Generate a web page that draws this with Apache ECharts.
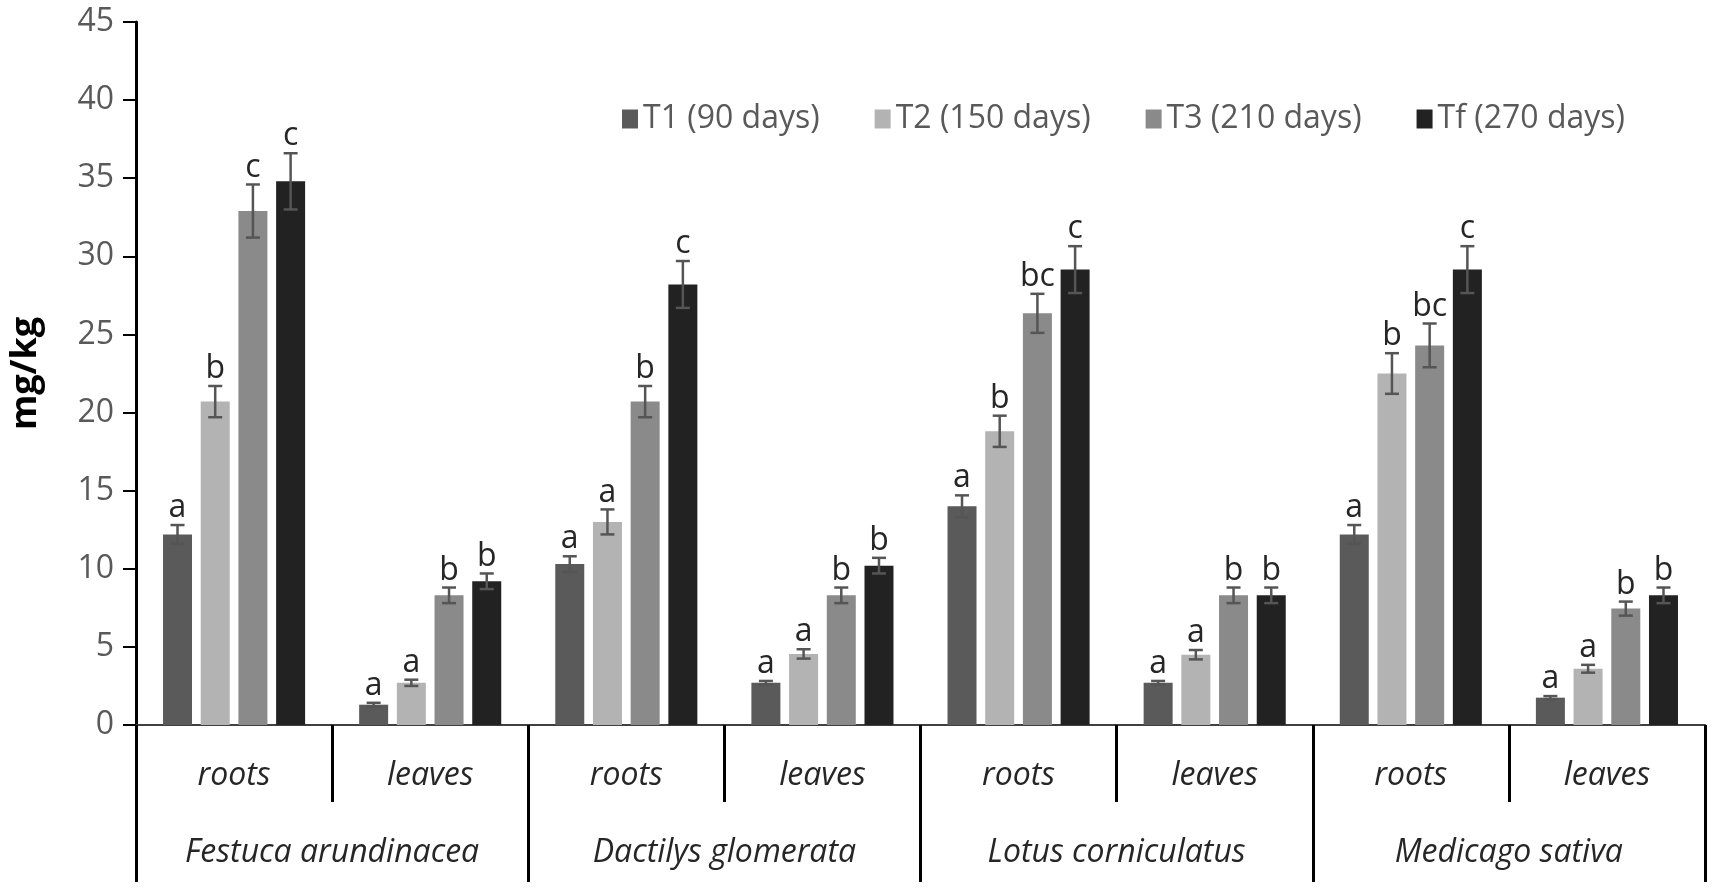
<!DOCTYPE html>
<html>
<head>
<meta charset="utf-8">
<script src="https://cdn.jsdelivr.net/npm/echarts@6/dist/echarts.min.js"></script>
<style>
  html, body { margin: 0; padding: 0; background: #fff; }
  #chart { width: 1714px; height: 892px; }
</style>
</head>
<body>
<div id="chart"></div>
<script>
// categories
var parts = ['roots', 'leaves', 'roots', 'leaves', 'roots', 'leaves', 'roots', 'leaves'];
var species = ['Festuca arundinacea', 'Dactilys glomerata', 'Lotus corniculatus', 'Medicago sativa'];
var seriesNames = ['T1 (90 days)', 'T2 (150 days)', 'T3 (210 days)', 'Tf (270 days)'];
var yTicks = [0, 5, 10, 15, 20, 25, 30, 35, 40, 45];

// mean values (mg/kg), one array per sampling time
var t1 = [12.2, 1.3, 10.3, 2.7, 14.0, 2.7, 12.2, 1.75];
var t2 = [20.7, 2.7, 13.0, 4.55, 18.8, 4.5, 22.5, 3.6];
var t3 = [32.9, 8.3, 20.7, 8.3, 26.35, 8.3, 24.3, 7.45];
var tf = [34.8, 9.2, 28.2, 10.2, 29.15, 8.3, 29.15, 8.3];

// error (+/-)
var t1Err = [0.6, 0.12, 0.5, 0.12, 0.7, 0.12, 0.6, 0.1];
var t2Err = [1.0, 0.2, 0.8, 0.3, 1.0, 0.3, 1.3, 0.25];
var t3Err = [1.7, 0.5, 1.0, 0.5, 1.25, 0.5, 1.4, 0.45];
var tfErr = [1.8, 0.5, 1.5, 0.5, 1.5, 0.5, 1.5, 0.5];

// significance letters
var t1Let = ['a', 'a', 'a', 'a', 'a', 'a', 'a', 'a'];
var t2Let = ['b', 'a', 'a', 'a', 'b', 'a', 'b', 'a'];
var t3Let = ['c', 'b', 'b', 'b', 'bc', 'b', 'bc', 'b'];
var tfLet = ['c', 'b', 'c', 'b', 'c', 'b', 'c', 'b'];

var colors = ['#5a5a5a', '#b3b3b3', '#8a8a8a', '#222222'];
var FONT = 'Open Sans';

var values = [t1, t2, t3, tf];
var errs = [t1Err, t2Err, t3Err, tfErr];
var letters = [t1Let, t2Let, t3Let, tfLet];

var BAR_W = 29;
var BAR_GAP = 0.3; // fraction of bar width
var STEP = BAR_W * (1 + BAR_GAP);

var myChart = echarts.init(document.getElementById('chart'));

var series = [];
// bars
for (var s = 0; s < 4; s++) {
    series.push({
        name: seriesNames[s],
        type: 'bar',
        xAxisIndex: 0,
        data: values[s],
        barWidth: BAR_W,
        barGap: (BAR_GAP * 100) + '%',
        itemStyle: { color: colors[s] },
        z: 2
    });
}
// error bars + letters
for (var s = 0; s < 4; s++) {
    (function (si) {
        var data = values[si].map(function (v, i) {
            return [i, v, errs[si][i], letters[si][i]];
        });
        series.push({
            type: 'custom',
            name: seriesNames[si] + ' err',
            xAxisIndex: 0,
            data: data,
            silent: true,
            z: 5,
            renderItem: function (params, api) {
                var idx = api.value(0);
                var v = api.value(1);
                var e = api.value(2);
                var off = (si - 1.5) * STEP;
                var top = api.coord([idx, v + e]);
                var bot = api.coord([idx, v - e]);
                var x = top[0] + off;
                var cap = 7;
                var st = { stroke: '#555555', lineWidth: 2.5 };
                return {
                    type: 'group',
                    children: [
                        { type: 'line', shape: { x1: x, y1: top[1], x2: x, y2: bot[1] }, style: st },
                        { type: 'line', shape: { x1: x - cap, y1: top[1], x2: x + cap, y2: top[1] }, style: st },
                        { type: 'line', shape: { x1: x - cap, y1: bot[1], x2: x + cap, y2: bot[1] }, style: st },
                        {
                            type: 'text',
                            style: {
                                text: api.value(3),
                                x: x,
                                y: top[1] - 1,
                                align: 'center',
                                verticalAlign: 'bottom',
                                fill: '#262626',
                                font: '32px "' + FONT + '"'
                            }
                        }
                    ]
                };
            }
        });
    })(s);
}

var option = {
    animation: false,
    backgroundColor: '#fff',
    textStyle: { fontFamily: FONT },
    legend: {
        data: seriesNames,
        left: 617,
        top: 98,
        itemWidth: 16,
        itemHeight: 19,
        itemGap: 55,
        textStyle: { color: '#595959', fontSize: 32, fontFamily: FONT, padding: [0, 0, 0, 0] },
        icon: 'rect'
    },
    grid: {
        left: 133,
        right: 9,
        top: 22,
        bottom: 167,
        containLabel: false
    },
    xAxis: [
        {
            type: 'category',
            data: parts,
            position: 'bottom',
            axisLine: { show: true, lineStyle: { color: '#404040', width: 2 } },
            axisTick: { show: true, interval: 0, length: 77, lineStyle: { color: '#000', width: 3 } },
            axisLabel: {
                interval: 0,
                margin: 35,
                fontSize: 32,
                fontStyle: 'italic',
                color: '#262626',
                fontFamily: FONT
            }
        },
        {
            type: 'category',
            data: species,
            position: 'bottom',
            axisLine: { show: false },
            axisTick: { show: true, interval: 0, length: 157, lineStyle: { color: '#000', width: 3 } },
            axisLabel: {
                interval: 0,
                margin: 112,
                fontSize: 32,
                fontStyle: 'italic',
                color: '#262626',
                fontFamily: FONT
            }
        }
    ],
    yAxis: {
        type: 'value',
        min: 0,
        max: 45,
        interval: 5,
        name: 'mg/kg',
        nameLocation: 'middle',
        nameRotate: 90,
        nameGap: 92,
        nameTextStyle: { color: '#000', fontSize: 36, fontWeight: 'bold', fontFamily: FONT },
        axisLine: { show: true, lineStyle: { color: '#000', width: 3 } },
        axisTick: { show: true, length: 13, lineStyle: { color: '#000', width: 2 } },
        splitLine: { show: false },
        axisLabel: {
            margin: 22,
            fontSize: 32,
            color: '#595959',
            fontFamily: FONT,
            formatter: function (v) { return yTicks.indexOf(v) >= 0 ? String(v) : ''; }
        }
    },
    series: series
};

myChart.setOption(option);
</script>
</body>
</html>
